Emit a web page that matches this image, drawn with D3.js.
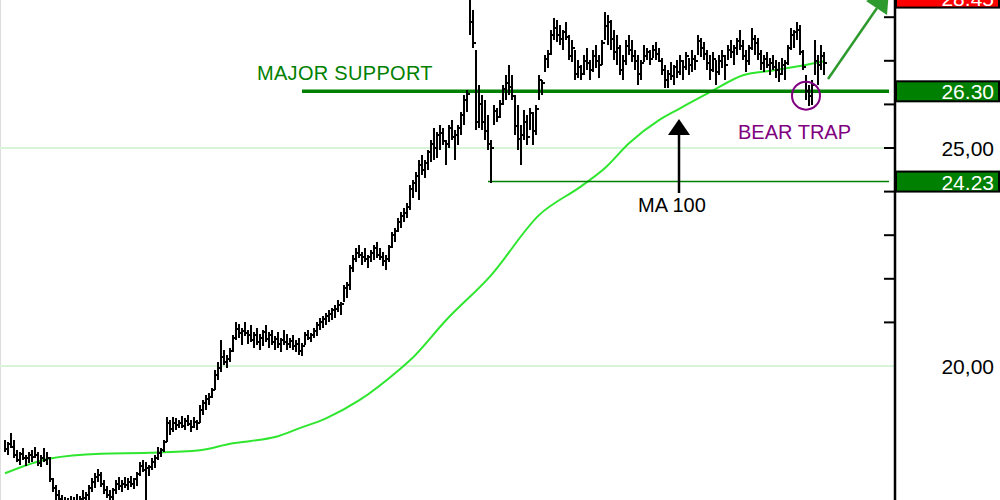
<!DOCTYPE html>
<html><head><meta charset="utf-8">
<script src="https://cdn.jsdelivr.net/npm/d3@7"></script>
<style>html,body{margin:0;padding:0;background:#fff;overflow:hidden}svg{display:block}</style>
</head><body><svg id="c" width="1000" height="500"></svg>
<script>
// ---- data ----
const high = [
18.30,18.25,18.46,18.30,18.07,18.03,18.12,17.95,18.03,18.07,
18.14,18.03,17.95,18.12,18.03,17.91,17.43,17.27,17.15,17.04,
16.99,16.97,17.01,16.99,17.06,17.01,17.15,17.11,17.27,17.43,
17.54,17.63,17.56,17.38,17.25,17.15,17.20,17.38,17.45,17.38,
17.45,17.43,17.47,17.43,17.56,17.79,17.84,17.79,17.72,17.88,
17.95,18.14,18.12,18.30,18.83,18.76,18.83,18.80,18.76,18.85,
18.80,18.87,18.76,18.83,18.76,19.10,19.21,19.33,19.37,19.49,
19.90,20.09,20.59,20.36,20.25,20.41,20.71,21.00,20.96,20.87,
21.00,20.82,20.94,20.78,20.87,20.73,20.82,20.94,20.78,20.82,
20.68,20.78,20.64,20.82,20.73,20.64,20.71,20.59,20.64,20.52,
20.78,20.82,20.75,20.87,21.00,21.10,21.14,21.21,21.28,21.33,
21.39,21.51,21.46,21.85,21.92,22.31,22.54,22.70,22.77,22.61,
22.70,22.54,22.66,22.77,22.84,22.70,22.61,22.54,22.77,23.07,
23.16,23.39,23.53,23.62,23.73,24.15,24.26,24.45,24.72,24.84,
24.72,24.95,25.18,25.45,25.36,25.52,25.45,25.18,25.52,25.64,
25.41,25.52,25.82,26.21,26.33,28.45,28.16,27.24,26.44,26.21,
26.10,25.75,25.18,25.98,25.91,26.10,26.44,26.67,26.90,26.67,
26.21,25.98,25.52,25.87,25.75,25.91,25.82,25.98,26.67,26.55,
27.13,27.24,27.70,27.99,27.94,27.82,27.70,27.89,27.59,27.47,
27.24,27.01,26.90,27.13,27.29,27.01,27.24,27.36,27.13,27.47,
28.11,28.05,27.94,27.70,27.59,27.36,27.13,27.47,27.59,27.47,
27.24,27.13,27.01,27.36,27.29,27.24,27.36,27.43,27.29,27.06,
26.90,26.78,26.97,26.90,27.01,27.13,27.01,27.20,27.06,27.24,
27.13,27.59,27.52,27.43,27.24,27.13,27.20,27.01,27.13,27.24,
27.13,27.36,27.47,27.36,27.52,27.70,27.47,27.24,27.36,27.75,
27.59,27.52,27.24,27.13,27.20,27.06,27.13,27.01,26.97,27.06,
27.01,27.36,27.75,27.70,27.89,27.82,27.24,26.67,26.44,26.55,27.47,27.13,27.36,27.20
];
const low = [
18.03,17.95,18.12,17.88,17.79,17.72,17.84,17.70,17.77,17.79,
17.88,17.70,17.68,17.79,17.72,17.34,17.11,16.92,16.86,16.74,
16.69,16.65,16.69,16.67,16.79,16.74,16.86,16.83,16.92,17.11,
17.20,17.34,17.22,17.06,16.97,16.88,16.92,17.06,17.15,17.11,
17.20,17.15,17.22,17.18,17.25,17.47,17.56,16.69,17.47,17.61,
17.65,17.84,17.91,18.03,18.25,18.41,18.48,18.53,18.57,18.57,
18.53,18.62,18.48,18.57,18.53,18.69,18.87,18.99,19.10,19.26,
19.44,19.67,19.86,20.02,19.95,20.09,20.32,20.59,20.64,20.48,
20.68,20.50,20.55,20.41,20.48,20.36,20.46,20.55,20.41,20.48,
20.36,20.41,20.32,20.48,20.36,20.41,20.36,20.32,20.25,20.23,
20.48,20.59,20.55,20.64,20.68,20.82,20.87,20.94,21.00,21.05,
21.10,21.24,21.17,21.46,21.55,21.74,22.15,22.38,22.47,22.31,
22.38,22.24,22.38,22.43,22.47,22.43,22.29,22.20,22.38,22.70,
22.84,23.07,23.16,23.30,23.39,23.57,23.85,23.99,23.80,24.38,
24.31,24.50,24.68,24.72,24.77,24.95,25.07,24.61,25.00,25.18,
24.72,25.07,25.29,25.52,25.82,27.59,27.29,25.41,25.45,25.41,
25.18,24.95,24.20,25.52,25.59,25.68,25.98,26.10,26.21,26.10,
25.29,24.95,24.61,25.18,25.07,25.41,25.07,25.29,26.10,26.21,
26.74,26.83,27.13,27.47,27.43,27.36,27.24,27.47,27.01,26.97,
26.55,26.60,26.55,26.67,26.78,26.55,26.74,26.83,26.60,26.90,
27.47,27.36,27.24,27.01,26.90,26.67,26.55,26.90,27.13,26.97,
26.78,26.44,26.55,26.97,27.01,26.90,27.06,27.01,26.97,26.67,
26.37,26.37,26.55,26.44,26.60,26.67,26.55,26.78,26.67,26.74,
26.78,27.13,27.08,27.01,26.78,26.55,26.74,26.44,26.67,26.83,
26.55,27.01,27.06,26.90,27.13,27.24,27.01,26.74,26.90,27.24,
27.13,27.01,26.78,26.74,26.83,26.67,26.78,26.60,26.51,26.67,
26.55,26.90,27.24,27.29,27.47,27.13,26.78,26.10,25.96,25.98,26.67,26.44,26.78,26.67
];
const close = [
18.10,18.20,18.15,17.95,17.85,17.98,17.88,17.90,17.95,17.92,
17.95,17.78,17.90,17.85,17.88,17.40,17.20,17.05,16.95,16.85,
16.80,16.85,16.78,16.90,16.88,16.95,16.98,17.05,17.20,17.35,
17.45,17.50,17.30,17.15,17.05,17.00,17.15,17.30,17.25,17.30,
17.28,17.35,17.30,17.40,17.52,17.70,17.62,17.65,17.68,17.80,
17.90,18.00,18.08,18.25,18.70,18.55,18.70,18.65,18.70,18.62,
18.75,18.68,18.60,18.72,18.70,19.00,19.15,19.25,19.30,19.45,
19.80,19.95,20.20,20.10,20.15,20.35,20.65,20.85,20.75,20.80,
20.75,20.70,20.60,20.70,20.55,20.65,20.78,20.62,20.70,20.55,
20.62,20.50,20.60,20.55,20.50,20.58,20.45,20.50,20.35,20.45,
20.70,20.65,20.72,20.80,20.95,21.00,21.08,21.15,21.20,21.28,
21.30,21.40,21.42,21.78,21.85,22.25,22.45,22.60,22.55,22.50,
22.45,22.50,22.60,22.70,22.55,22.50,22.40,22.45,22.72,23.00,
23.10,23.30,23.45,23.50,23.65,24.05,24.20,24.35,24.60,24.50,
24.65,24.90,25.10,25.00,25.30,25.35,25.15,25.10,25.45,25.25,
25.30,25.45,25.75,26.10,26.25,27.90,27.40,25.60,26.00,25.60,
25.40,25.10,25.00,25.85,25.70,26.00,26.35,26.50,26.40,26.20,
25.50,25.20,25.30,25.60,25.25,25.80,25.40,25.90,26.55,26.50,
27.05,27.15,27.60,27.75,27.60,27.50,27.65,27.55,27.10,27.30,
26.70,26.85,26.70,27.00,26.95,26.80,27.10,27.00,26.90,27.40,
27.80,27.90,27.50,27.20,27.30,26.80,27.00,27.35,27.25,27.10,
27.00,26.70,26.95,27.10,27.20,27.05,27.25,27.15,27.00,26.80,
26.55,26.70,26.65,26.85,26.75,27.00,26.85,27.10,26.90,27.05,
27.00,27.45,27.30,27.15,26.95,26.80,27.05,26.75,27.00,27.10,
26.90,27.25,27.20,27.30,27.45,27.35,27.10,27.00,27.30,27.50,
27.40,27.15,26.95,27.05,26.90,26.95,26.85,26.80,26.70,26.90,
26.95,27.30,27.60,27.65,27.70,27.20,26.85,26.30,26.20,26.45,27.00,26.90,27.10,26.95
];
const maIndex = [0,15,32,48,65,76,82,90,98,107,118,132,135,147,162,178,192,200,208,218,225,235,246,256,265,273];
const maValue = [17.54,17.88,17.99,18.01,18.07,18.23,18.28,18.37,18.57,18.80,19.21,19.95,20.13,21.05,22.08,23.46,24.12,24.54,25.11,25.64,25.91,26.28,26.67,26.78,26.88,26.99];
const tickValues = [21,22,23,24,25,26,27,28];
const gridValues = [20,25];
const gridLabels = ["20,00","25,00"];
const levelValues = [28.45,26.30,24.23];
const levelLabels = ["28.45","26.30","24.23"];
const levelColors = ["#ff0000","#008000","#008000"];
const supportValue = 26.30, supportStartIndex = 99;
const minorSupportValue = 24.23, minorSupportStartIndex = 161;
const bearTrapIndex = 267, bearTrapValue = 26.2;

// ---- scales ----
const svg = d3.select("#c");
const FONT = "'Liberation Sans', Arial, sans-serif";
const axisX = 895;
const x = d3.scaleLinear().domain([0, high.length - 1]).range([5, 824]);
const y = d3.scaleLinear().domain([20, 25]).range([366, 148]);

svg.append("rect").attr("width",1000).attr("height",500).attr("fill","#fff");
svg.append("line").attr("x1",0.5).attr("x2",0.5).attr("y1",0).attr("y2",500).attr("stroke","#dddddd");

// grid
svg.selectAll(".grid").data(gridValues).join("line")
  .attr("x1",0).attr("x2",axisX).attr("y1",d=>y(d)).attr("y2",d=>y(d))
  .attr("stroke","#d6f5d6").attr("stroke-width",2);

// moving average
const ma = maIndex.map((d,i)=>[x(d), y(maValue[i])]);
svg.append("path").attr("d", d3.line().curve(d3.curveMonotoneX)(ma))
  .attr("fill","none").attr("stroke","#2ee62e").attr("stroke-width",2);

// support lines
svg.append("line").attr("x1",x(supportStartIndex)).attr("x2",889)
  .attr("y1",y(supportValue)).attr("y2",y(supportValue))
  .attr("stroke","#008000").attr("stroke-width",3.5);
svg.append("line").attr("x1",x(minorSupportStartIndex)).attr("x2",889)
  .attr("y1",y(minorSupportValue)).attr("y2",y(minorSupportValue))
  .attr("stroke","#008000").attr("stroke-width",1.6);

// price bars (OHLC, open = previous close)
const bars = svg.append("g").attr("shape-rendering","crispEdges").attr("fill","#000");
bars.selectAll(".hl").data(high).join("rect")
  .attr("x",(d,i)=>Math.round(x(i))-1).attr("width",2)
  .attr("y",d=>y(d)).attr("height",(d,i)=>Math.max(1,y(low[i])-y(d)));
bars.selectAll(".cl").data(close).join("rect")
  .attr("x",(d,i)=>Math.round(x(i))+1).attr("width",2)
  .attr("y",d=>Math.round(y(d))-1).attr("height",2);
bars.selectAll(".op").data(close.slice(0,-1)).join("rect")
  .attr("x",(d,i)=>Math.round(x(i+1))-2).attr("width",1)
  .attr("y",d=>Math.round(y(d))-1).attr("height",2);

// axis
svg.append("line").attr("x1",axisX).attr("x2",axisX).attr("y1",0).attr("y2",500)
  .attr("stroke","#000").attr("stroke-width",2.5);
svg.selectAll(".tk").data(tickValues).join("line")
  .attr("x1",axisX-11).attr("x2",axisX).attr("y1",d=>y(d)).attr("y2",d=>y(d))
  .attr("stroke","#000").attr("stroke-width",2);
svg.selectAll(".gl").data(gridValues).join("text")
  .attr("x",994).attr("y",d=>y(d)+7.5).attr("text-anchor","end")
  .attr("font-family",FONT).attr("font-size",21).attr("fill","#000")
  .text((d,i)=>gridLabels[i]);

// level boxes
const lv = svg.selectAll(".lv").data(levelValues).join("g");
lv.append("rect").attr("x",axisX+1).attr("y",d=>y(d)-10).attr("width",103).attr("height",20)
  .attr("fill",(d,i)=>levelColors[i]).attr("stroke","#000").attr("stroke-width",2);
lv.append("text").attr("x",994).attr("y",d=>y(d)+8).attr("text-anchor","end")
  .attr("font-family",FONT).attr("font-size",21).attr("fill","#fff")
  .text((d,i)=>levelLabels[i]);

// annotations
svg.append("text").attr("x",257).attr("y",80).attr("font-family",FONT).attr("font-size",20)
  .attr("letter-spacing",0.3).attr("fill","#008000").text("MAJOR SUPPORT");
svg.append("text").attr("x",738).attr("y",139).attr("font-family",FONT).attr("font-size",20)
  .attr("fill","#800080").text("BEAR TRAP");
svg.append("circle").attr("cx",x(bearTrapIndex)).attr("cy",y(bearTrapValue)).attr("r",14)
  .attr("fill","none").attr("stroke","#800080").attr("stroke-width",2);
svg.append("text").attr("x",638).attr("y",212).attr("font-family",FONT).attr("font-size",20)
  .attr("fill","#000").text("MA 100");
svg.append("line").attr("x1",679).attr("x2",679).attr("y1",193).attr("y2",130)
  .attr("stroke","#000").attr("stroke-width",2.5);
svg.append("path").attr("d","M679,119L668,135L690,135Z").attr("fill","#000");
// green arrow
svg.append("line").attr("x1",828).attr("y1",79).attr("x2",877).attr("y2",8)
  .attr("stroke","#2e9a2e").attr("stroke-width",2.5);
svg.append("path").attr("d","M866,1L887,15L889,-10Z").attr("fill","#2e9a2e");
</script></body></html>
